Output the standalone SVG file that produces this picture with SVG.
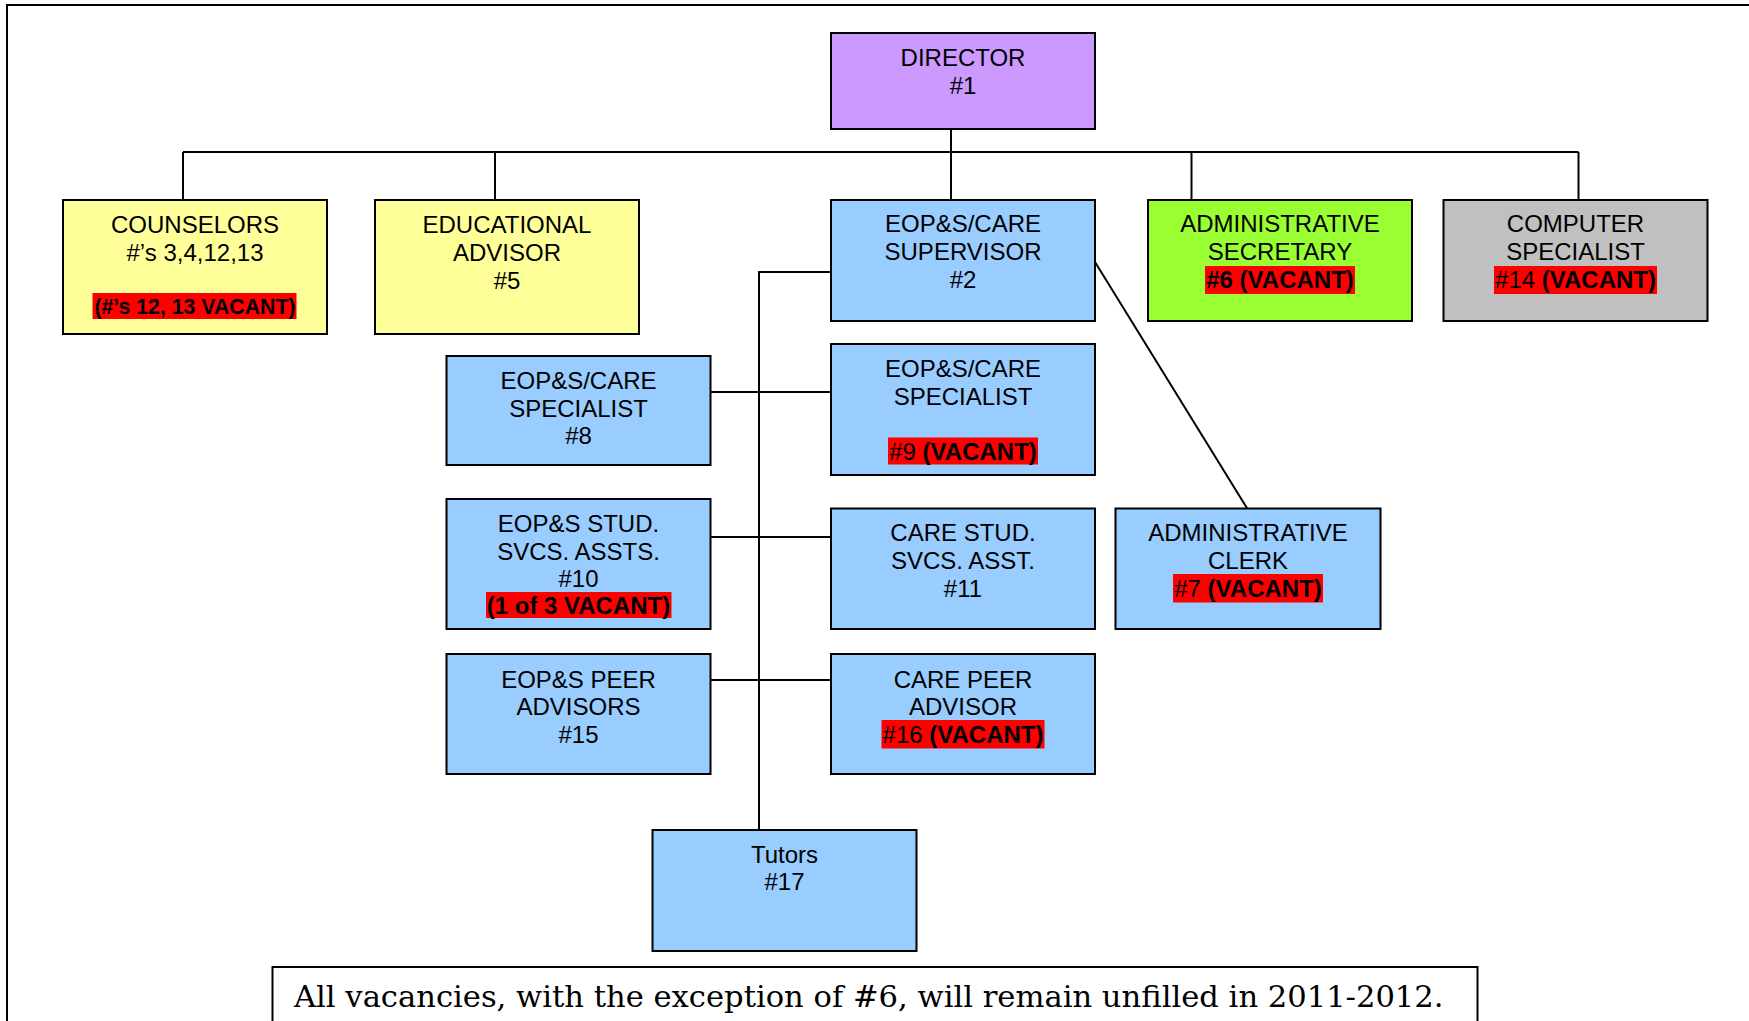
<svg xmlns="http://www.w3.org/2000/svg" width="1749" height="1021" viewBox="0 0 1749 1021">
<style>
.box{stroke:#000;stroke-width:2}
.purple{fill:#cc99ff}.yellow{fill:#ffff99}.blue{fill:#99ccff}.green{fill:#99ff33}.gray{fill:#c0c0c0}
.hl{fill:#ff0000}
text{font-family:"Liberation Sans",Arial,sans-serif;font-size:24px;fill:#000;text-anchor:middle}
.b{font-weight:bold}
.line{stroke:#000;stroke-width:2;fill:none}
.foot{font-family:"DejaVu Serif","Liberation Serif",serif;font-size:29px;text-anchor:start}
</style>
<rect width="1749" height="1021" fill="#fff"/>
<g id="frame">
<path class="line" d="M7 1021V5H1749"/>
</g>
<g id="connectors">
<path class="line" d="M951 129V200"/>
<path class="line" d="M183 152H1578.5"/>
<path class="line" d="M183 152V200"/>
<path class="line" d="M495 152V200"/>
<path class="line" d="M1191.5 152V200"/>
<path class="line" d="M1578.5 152V200"/>
<path class="line" d="M831 272H759V830"/>
<path class="line" d="M1095 262L1247.5 509"/>
<path class="line" d="M711 392H831"/>
<path class="line" d="M711 537H831"/>
<path class="line" d="M711 680H831"/>
</g>
<g id="director">
<rect class="box purple" x="831" y="33" width="264" height="96"/>
<text x="963" y="66">DIRECTOR</text>
<text x="963" y="94">#1</text>
</g>
<g id="counselors">
<rect class="box yellow" x="63" y="200" width="264" height="134"/>
<text x="195" y="233">COUNSELORS</text>
<text x="195" y="261">#’s 3,4,12,13</text>
<rect class="hl" x="92.5" y="293" width="204" height="26"/>
<text x="195" y="314" class="b" style="font-size:21.3px">(#’s 12, 13 VACANT)</text>
</g>
<g id="educational-advisor">
<rect class="box yellow" x="375" y="200" width="264" height="134"/>
<text x="507" y="233">EDUCATIONAL</text>
<text x="507" y="261">ADVISOR</text>
<text x="507" y="289">#5</text>
</g>
<g id="supervisor">
<rect class="box blue" x="831" y="200" width="264" height="121"/>
<text x="963" y="232">EOP&amp;S/CARE</text>
<text x="963" y="260">SUPERVISOR</text>
<text x="963" y="288">#2</text>
</g>
<g id="admin-secretary">
<rect class="box green" x="1148" y="200" width="264" height="121"/>
<text x="1280" y="232">ADMINISTRATIVE</text>
<text x="1280" y="260">SECRETARY</text>
<rect class="hl" x="1205" y="266" width="150" height="28"/>
<text x="1280" y="288" class="b">#6 (VACANT)</text>
</g>
<g id="computer-specialist">
<rect class="box gray" x="1443.5" y="200" width="264" height="121"/>
<text x="1575.5" y="232">COMPUTER</text>
<text x="1575.5" y="260">SPECIALIST</text>
<rect class="hl" x="1494" y="266" width="163" height="28"/>
<text x="1575.5" y="288">#14 <tspan class="b">(VACANT)</tspan></text>
</g>
<g id="specialist-8">
<rect class="box blue" x="446.5" y="356" width="264" height="109"/>
<text x="578.5" y="388.5">EOP&amp;S/CARE</text>
<text x="578.5" y="416.5">SPECIALIST</text>
<text x="578.5" y="444">#8</text>
</g>
<g id="specialist-9">
<rect class="box blue" x="831" y="344" width="264" height="131"/>
<text x="963" y="376.5">EOP&amp;S/CARE</text>
<text x="963" y="404.5">SPECIALIST</text>
<rect class="hl" x="888" y="437.5" width="150" height="27"/>
<text x="963" y="460">#9 <tspan class="b">(VACANT)</tspan></text>
</g>
<g id="stud-svcs-10">
<rect class="box blue" x="446.5" y="499" width="264" height="130"/>
<text x="578.5" y="531.5">EOP&amp;S STUD.</text>
<text x="578.5" y="559.5">SVCS. ASSTS.</text>
<text x="578.5" y="587">#10</text>
<rect class="hl" x="486" y="592" width="185.5" height="26"/>
<text x="578.5" y="614" class="b">(1 of 3 VACANT)</text>
</g>
<g id="care-stud-svcs-11">
<rect class="box blue" x="831" y="508.5" width="264" height="120.5"/>
<text x="963" y="541">CARE STUD.</text>
<text x="963" y="569">SVCS. ASST.</text>
<text x="963" y="597">#11</text>
</g>
<g id="admin-clerk">
<rect class="box blue" x="1115.5" y="508.5" width="265" height="120.5"/>
<text x="1248" y="541">ADMINISTRATIVE</text>
<text x="1248" y="569">CLERK</text>
<rect class="hl" x="1173" y="574" width="150" height="28.5"/>
<text x="1248" y="597">#7 <tspan class="b">(VACANT)</tspan></text>
</g>
<g id="peer-advisors-15">
<rect class="box blue" x="446.5" y="654" width="264" height="120"/>
<text x="578.5" y="687.5">EOP&amp;S PEER</text>
<text x="578.5" y="715">ADVISORS</text>
<text x="578.5" y="742.5">#15</text>
</g>
<g id="care-peer-advisor-16">
<rect class="box blue" x="831" y="654" width="264" height="120"/>
<text x="963" y="687.5">CARE PEER</text>
<text x="963" y="715">ADVISOR</text>
<rect class="hl" x="881.5" y="720" width="163" height="28.5"/>
<text x="963" y="742.5">#16 <tspan class="b">(VACANT)</tspan></text>
</g>
<g id="tutors">
<rect class="box blue" x="652.5" y="830" width="264" height="121"/>
<text x="784.5" y="862.5">Tutors</text>
<text x="784.5" y="890">#17</text>
</g>
<g id="footer">
<rect class="box" fill="#fff" x="272.5" y="967" width="1205" height="80"/>
<text class="foot" x="294" y="1006.5" textLength="1149.5" lengthAdjust="spacingAndGlyphs">All vacancies, with the exception of #6, will remain unfilled in 2011-2012.</text>
</g>
</svg>
